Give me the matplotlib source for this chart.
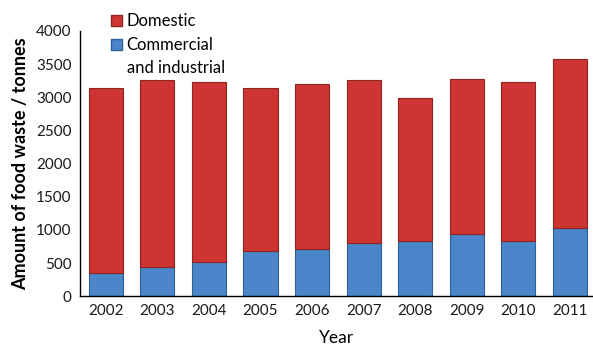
import numpy as np
import matplotlib.pyplot as plt
from matplotlib.patches import Patch

years = ['2002', '2003', '2004', '2005', '2006', '2007', '2008', '2009', '2010', '2011']
commercial = [350, 440, 510, 685, 715, 800, 835, 945, 825, 1035]
totals = [3140, 3260, 3230, 3140, 3200, 3260, 2990, 3280, 3230, 3580]
domestic = [t - c for t, c in zip(totals, commercial)]

plt.rcParams['font.family'] = ['Lato', 'DejaVu Sans']

fig = plt.figure(figsize=(5.93, 3.48), dpi=100)
ax = fig.add_axes([0.135, 0.149, 0.865, 0.762])

x = np.arange(len(years))
w = 0.66
ax.bar(x, commercial, w, color='#4a86c9', edgecolor='#2f5f96', linewidth=0.8)
ax.bar(x, domestic, w, bottom=commercial, color='#cd3432', edgecolor='#8e2320', linewidth=0.8)

ax.set_xlim(-0.5, 9.45)
ax.set_ylim(0, 4000)
ax.set_yticks(range(0, 4001, 500))
ax.set_xticks(x)
ax.set_xticklabels(years)
ax.tick_params(axis='both', length=0, labelsize=11, colors='#1a1a1a', pad=6)

for s in ['top', 'right']:
    ax.spines[s].set_visible(False)
ax.spines['left'].set_linewidth(1.0)
ax.spines['bottom'].set_linewidth(1.0)

ax.set_ylabel('Amount of food waste / tonnes', fontsize=13, fontweight='bold', labelpad=5)
ax.set_xlabel('Year', fontsize=12.5, labelpad=8)

# third entry is the second line of the commercial label, no marker
handles = [Patch(facecolor='#cd3432', edgecolor='#8e2320'),
           Patch(facecolor='#4a86c9', edgecolor='#2f5f96'),
           Patch(alpha=0)]
fig.legend(handles, ['Domestic', 'Commercial', 'and industrial'],
           loc='upper left', bbox_to_anchor=(0.17, 0.99), frameon=False,
           fontsize=12, handlelength=0.65, handleheight=0.65, handletextpad=0.3,
           labelspacing=0.45, borderaxespad=0.2)

fig.savefig('out.png', dpi=100)
